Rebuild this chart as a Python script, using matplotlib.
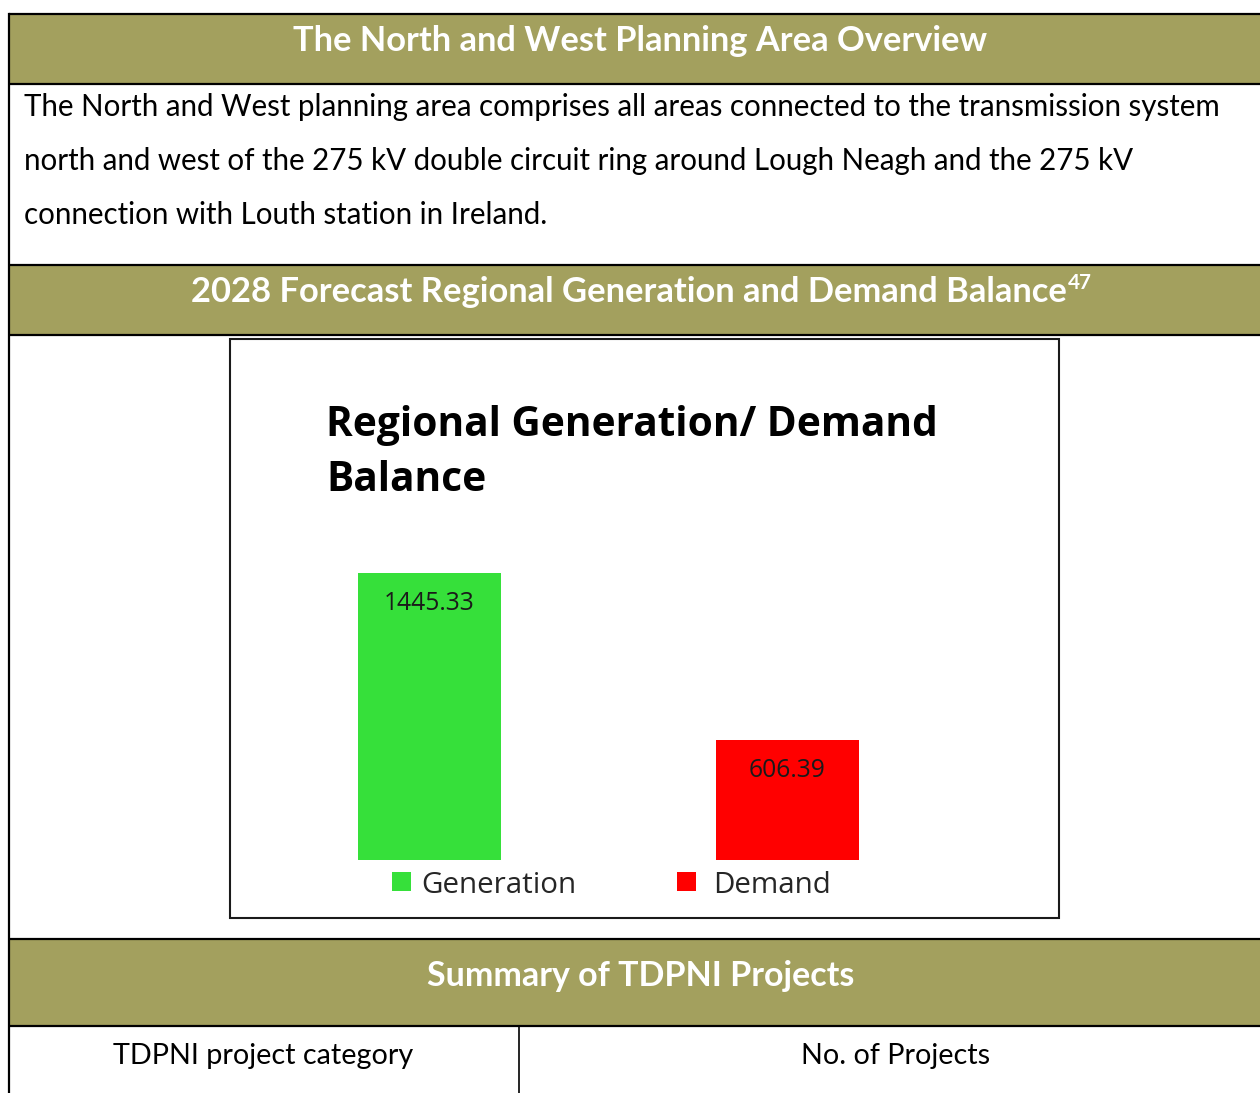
import matplotlib
matplotlib.use('Agg')
import matplotlib.pyplot as plt
from matplotlib.patches import Rectangle

W, H = 1260, 1093

# ---- data / text ----
header_titles = ["The North and West Planning Area Overview",
                 "2028 Forecast Regional Generation and Demand Balance",
                 "Summary of TDPNI Projects"]
header_footnote = "47"
paragraph_lines = [
    "The North and West planning area comprises all areas connected to the transmission system",
    "north and west of the 275 kV double circuit ring around Lough Neagh and the 275 kV",
    "connection with Louth station in Ireland.",
]
chart_title_lines = ["Regional Generation/ Demand", "Balance"]
categories = ["Generation", "Demand"]
values = [1445.33, 606.39]
bar_colors = ["#36E03A", "#FF0000"]
table_headers = ["TDPNI project category", "No. of Projects"]

OLIVE = "#A3A05E"
TEXT_FONT = ["Lato", "DejaVu Sans"]
CHART_FONT = ["Open Sans", "DejaVu Sans"]

fig = plt.figure(figsize=(W / 100, H / 100), dpi=100)
bg = fig.add_axes([0, 0, 1, 1])
bg.set_xlim(0, W)
bg.set_ylim(H, 0)
bg.axis('off')
renderer = fig.canvas.get_renderer()


def fit_text(ax, x, y, s, width, ha='left', base=20, **kw):
    t = ax.text(x, y, s, ha=ha, va='baseline', fontsize=base, **kw)
    bb = t.get_window_extent(renderer)
    fs = base * width / bb.width
    t.set_fontsize(fs)
    return t, fs


# ---- table structure ----
for y0, y1 in [(14, 84), (265, 335), (940, 1026)]:
    bg.add_patch(Rectangle((9, y0), W - 9, y1 - y0, facecolor=OLIVE, edgecolor='none', zorder=1))
lw = 1.6
for y in [14, 84, 265, 335, 939, 1026]:
    bg.plot([9, W], [y, y], color='black', lw=lw, zorder=3, solid_capstyle='butt')
bg.plot([9, 9], [14, H], color='black', lw=lw, zorder=3)
bg.plot([519, 519], [1026, H], color='black', lw=1.2, zorder=3)

# headers
fit_text(bg, 640.5, 51, header_titles[0], 693, ha='center', color='white',
         fontweight='bold', family=TEXT_FONT, zorder=4)
fit_text(bg, 629, 302, header_titles[1], 876, ha='center', color='white',
         fontweight='bold', family=TEXT_FONT, zorder=4)
fit_text(bg, 1068, 289, header_footnote, 24, ha='left', color='white',
         fontweight='bold', family=TEXT_FONT, zorder=4)
fit_text(bg, 641, 986, header_titles[2], 426, ha='center', color='white',
         fontweight='bold', family=TEXT_FONT, zorder=4)

# paragraph
_, pfs = fit_text(bg, 24, 116, paragraph_lines[0], 1200, color='black', family=TEXT_FONT)
for line, yb in zip(paragraph_lines[1:], [170, 224]):
    bg.text(24, yb, line, ha='left', va='baseline', fontsize=pfs, color='black', family=TEXT_FONT)

# table header row
_, tfs = fit_text(bg, 263, 1064, table_headers[0], 300, ha='center', color='black', family=TEXT_FONT)
bg.text(896, 1064, table_headers[1], ha='center', va='baseline', fontsize=tfs,
        color='black', family=TEXT_FONT)

# ---- chart box ----
bg.add_patch(Rectangle((230, 339), 1059 - 230, 918 - 339, facecolor='white',
                       edgecolor='#1a1a1a', lw=1.5, zorder=2))
_, cfs = fit_text(bg, 326, 436, chart_title_lines[0], 613, color='black',
                  fontweight='bold', family=CHART_FONT, zorder=4)
bg.text(326, 491, chart_title_lines[1], ha='left', va='baseline', fontsize=cfs,
        color='black', fontweight='bold', family=CHART_FONT, zorder=4)

# bars axes: baseline at y=860 px
ax_l, ax_r, ax_t, ax_b = 230, 1059, 339, 860
gen_center, dem_center = 429.5, 787.0
px_per_unit = dem_center - gen_center
ax = fig.add_axes([ax_l / W, (H - ax_b) / H, (ax_r - ax_l) / W, (ax_b - ax_t) / H])
ax.set_xlim((ax_l - gen_center) / px_per_unit, (ax_r - gen_center) / px_per_unit)
ax.set_ylim(0, values[0] * (ax_b - ax_t) / (860 - 573))
ax.axis('off')
ax.patch.set_alpha(0)
xs = list(range(len(categories)))
ax.bar(xs, values, width=143 / px_per_unit, color=bar_colors, edgecolor='none', zorder=3)
lfs = 15
for i, v in enumerate(values):
    t = ax.annotate(f"{v:.2f}", xy=(i, v), xytext=(0, -37 * 72 / 100),
                    textcoords='offset points', ha='center', va='baseline',
                    fontsize=15, color='#1a1a1a', family=CHART_FONT, zorder=5)
    if i == 0:
        bb = t.get_window_extent(renderer)
        lfs = 15 * 91 / bb.width
    t.set_fontsize(lfs)

# legend
leg_sq_x = [392, 677]
leg_tx_x = [421, 713]
leg_w = [155, 120]
legfs = None
for i, cat in enumerate(categories):
    bg.add_patch(Rectangle((leg_sq_x[i], 872), 19, 19, facecolor=bar_colors[i],
                           edgecolor='none', zorder=4))
    if legfs is None:
        _, legfs = fit_text(bg, leg_tx_x[i], 893, cat, leg_w[i], color='#262626',
                            family=CHART_FONT, zorder=4)
    else:
        bg.text(leg_tx_x[i], 893, cat, ha='left', va='baseline', fontsize=legfs,
                color='#262626', family=CHART_FONT, zorder=4)

fig.savefig('out.png', dpi=100)
